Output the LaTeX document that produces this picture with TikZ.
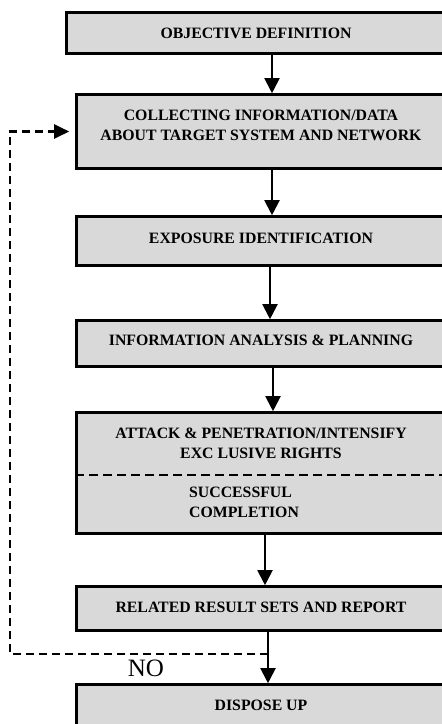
\documentclass[tikz,border=0pt]{standalone}
\usepackage{fontspec}
\setmainfont{Liberation Serif}
\usetikzlibrary{arrows.meta,calc}
\definecolor{boxgray}{RGB}{217,217,217}
\begin{document}
\begin{tikzpicture}[x=1pt,y=-1pt,
  box/.style={draw=black, line width=2.6pt, fill=boxgray, inner sep=0pt, minimum width=369pt},
  lbl/.style={font=\bfseries\fontsize{15.8}{20}\selectfont, align=center, inner sep=0pt},
  arr/.style={line width=2pt, -{Triangle[length=15pt,width=15pt]}},
  fbline/.style={line width=2.2pt, dash pattern=on 8pt off 5pt, -{Triangle[length=15pt,width=14pt]}, shorten >=6pt},
  dline/.style={line width=2.2pt, dash pattern=on 9pt off 5pt}]
\useasboundingbox (0,0) rectangle (442,724);
% boxes
\node[box, minimum width=379pt, minimum height=41pt] (b1) at (256,33) {};
\node[box, minimum height=74pt] (b2) at (261,131.5) {};
\node[box, minimum height=49pt] (b3) at (261,241) {};
\node[box, minimum height=46pt] (b4) at (261,343.5) {};
\node[box, minimum height=121pt] (b5) at (261,473) {};
\node[box, minimum height=44pt] (b6) at (261,608.5) {};
\node[box, minimum height=42pt] (b7) at (261,705.5) {};
% texts
\node[lbl] (t1) at (256,33) {OBJECTIVE DEFINITION};
\node[lbl] (t2) at (261,125) {COLLECTING INFORMATION/DATA\\ABOUT TARGET SYSTEM AND NETWORK};
\node[lbl] (t3) at (261,238) {EXPOSURE IDENTIFICATION};
\node[lbl] (t4) at (261,340) {INFORMATION ANALYSIS \& PLANNING};
\node[lbl] (t5) at (261,443) {ATTACK \& PENETRATION/INTENSIFY\\EXC LUSIVE RIGHTS};
\node[lbl, align=left, anchor=west] (t5b) at (189,502.5) {SUCCESSFUL\\COMPLETION};
\node[lbl] (t6) at (261,607) {RELATED RESULT SETS AND REPORT};
\node[lbl] (t7) at (261,705) {DISPOSE UP};
\node[font=\fontsize{25}{28}\selectfont, inner sep=0pt] (no) at (146,668) {NO};
% dashed divider in box 5
\draw[dline] (b5.west |- 0,475) -- (b5.east |- 0,475);
% arrows
\draw[arr] (b1.south -| 272,0) -- (b2.north -| 272,0);
\draw[arr] (b2.south -| 272,0) -- (b3.north -| 272,0);
\draw[arr] (b3.south -| 270,0) -- (b4.north -| 270,0);
\draw[arr] (b4.south -| 273,0) -- (b5.north -| 273,0);
\draw[arr] (b5.south -| 265,0) -- (b6.north -| 265,0);
\draw[arr] (b6.south -| 268,0) -- (b7.north -| 268,0);
% feedback
\coordinate (fb) at (268,654);
\coordinate (corner) at (10,131.5);
\draw[fbline] (fb) -| (corner) -- (b2.west);
\end{tikzpicture}
\end{document}
